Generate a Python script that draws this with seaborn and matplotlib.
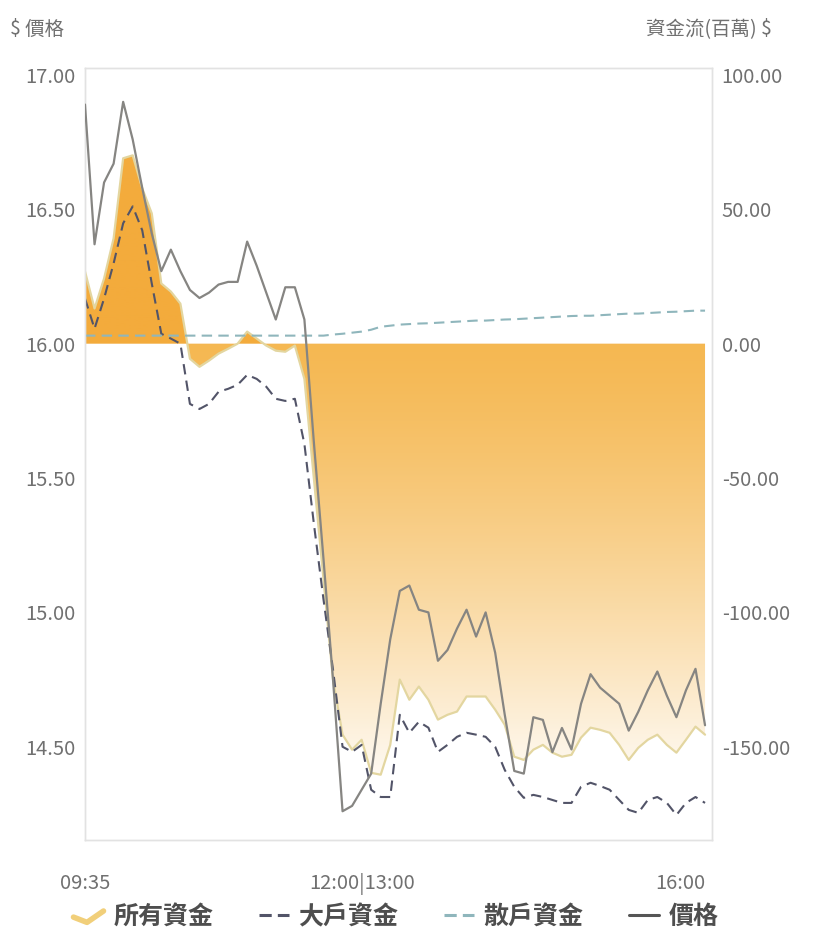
import numpy as np
import pandas as pd
import matplotlib
matplotlib.use("Agg")
import matplotlib.pyplot as plt
from matplotlib.patches import Polygon
from matplotlib.lines import Line2D
from matplotlib.legend_handler import HandlerBase
import seaborn as sns

# ---- data -----------------------------------------------------------------
morning = pd.date_range("09:35", "12:00", freq="5min").strftime("%H:%M").tolist()
afternoon = pd.date_range("13:05", "16:00", freq="5min").strftime("%H:%M").tolist()
times = morning + afternoon

price = [16.89, 16.37, 16.60, 16.67, 16.90, 16.76, 16.58, 16.41, 16.27, 16.35,
         16.27, 16.20, 16.17, 16.19, 16.22, 16.23, 16.23, 16.38, 16.29, 16.19,
         16.09, 16.21, 16.21, 16.09, 15.63, 15.20, 14.75, 14.26, 14.28, 14.34,
         14.40, 14.66, 14.90, 15.08, 15.10, 15.01, 15.00, 14.82, 14.86, 14.94,
         15.01, 14.91, 15.00, 14.85, 14.62, 14.41, 14.40, 14.61, 14.60, 14.48,
         14.57, 14.49, 14.66, 14.77, 14.72, 14.69, 14.66, 14.56, 14.63, 14.71,
         14.78, 14.69, 14.61, 14.71, 14.79, 14.58]

total_flow = [26.9, 13.1, 24.3, 39.2, 69.0, 70.1, 57.8, 48.5, 22.4, 19.4,
              14.9, -5.6, -8.6, -6.3, -3.7, -1.9, 0.0, 4.5, 1.9, -0.7,
              -2.6, -3.0, -0.7, -13.1, -50.4, -87.7, -125.0, -145.5, -151.1, -147.4,
              -159.7, -160.4, -149.3, -125.0, -132.5, -127.6, -132.5, -139.9, -138.1, -136.9,
              -131.3, -131.3, -131.3, -136.2, -141.8, -153.7, -154.9, -151.1, -149.3, -152.2,
              -153.7, -153.0, -146.6, -142.9, -143.7, -144.8, -149.3, -154.9, -150.4, -147.4,
              -145.5, -149.3, -152.2, -147.4, -142.5, -145.5]

large_flow = [16.8, 5.6, 16.8, 29.9, 44.8, 51.1, 42.2, 22.4, 3.7, 1.9,
              0.0, -22.4, -24.3, -22.4, -17.9, -16.8, -15.3, -11.6, -13.1, -16.0,
              -20.5, -21.3, -20.5, -37.3, -67.2, -95.1, -121.3, -150.0, -151.9, -149.3,
              -166.0, -168.7, -168.7, -138.1, -144.8, -140.7, -142.9, -151.9, -149.3, -146.3,
              -144.8, -145.5, -146.3, -150.0, -158.6, -164.9, -169.0, -167.9, -168.7, -169.8,
              -170.9, -170.9, -164.9, -163.4, -164.6, -166.0, -169.8, -173.5, -174.6, -169.8,
              -168.7, -170.9, -175.4, -170.9, -168.7, -170.9]

retail_flow = [3.0, 3.0, 3.0, 3.0, 3.0, 3.0, 3.0, 3.0, 3.0, 3.0,
               3.0, 3.0, 3.0, 3.0, 3.0, 3.0, 3.0, 3.0, 3.0, 3.0,
               3.0, 3.0, 3.0, 3.0, 3.0, 3.0, 3.4, 3.7, 4.1, 4.5,
               5.2, 6.3, 6.7, 7.1, 7.3, 7.5, 7.6, 7.8, 8.0, 8.2,
               8.4, 8.6, 8.6, 8.8, 9.0, 9.1, 9.3, 9.5, 9.7, 9.9,
               10.1, 10.3, 10.4, 10.4, 10.6, 10.8, 11.0, 11.2, 11.2, 11.4,
               11.6, 11.8, 11.9, 12.1, 12.3, 12.3]

tick_times = ["09:35", "12:00", "16:00"]
tick_labels = ["09:35", "12:00|13:00", "16:00"]
price_ticks = [14.5, 15.0, 15.5, 16.0, 16.5, 17.0]
flow_ticks = [-150, -100, -50, 0, 50, 100]

series_names = ["所有資金", "大戶資金", "散戶資金", "價格"]

# ---- style ------------------------------------------------------------------
sns.set_theme(style="white")
plt.rcParams["font.family"] = ["Noto Sans CJK TC", "DejaVu Sans"]

FILL_POS = np.array([0xf3, 0xab, 0x3c]) / 255.0   # inflow area: solid orange
FILL_NEG = np.array([0xf5, 0xb8, 0x52]) / 255.0   # outflow area: fades to white
TOTAL_LINE = "#e3d6a0"
LARGE = "#525468"
RETAIL = "#8fb6bc"
PRICE = "#868582"
TEXT = "#707070"

df = pd.DataFrame({
    "t": np.arange(len(times)),
    "time": times,
    "price": price,
    "total": total_flow,
    "large": large_flow,
    "retail": retail_flow,
})

# flow axis (scale: 1 price unit = 100 flow units, 16.00 <-> 0)
flow_lo, flow_hi = -184.7, 102.6
x_lo, x_hi = 0, len(times) - 1 + 0.73

fig = plt.figure(figsize=(8.13, 9.36), dpi=100)
ax = fig.add_axes([85 / 813, 1 - 840 / 936, (712 - 85) / 813, (840 - 68) / 936])
ax2 = ax.twinx()

# gradient-filled area for total flow
v = np.linspace(flow_hi, flow_lo, 800)
frac = np.clip(-v / 170.0, 0, 1) ** 1.3
neg = FILL_NEG[None, :] * (1 - frac[:, None]) + np.ones(3)[None, :] * frac[:, None]
cols = np.where((v >= 0)[:, None], FILL_POS[None, :], neg)
img = cols[:, None, :]
im = ax.imshow(img, extent=[x_lo, x_hi, flow_lo, flow_hi], aspect="auto",
               origin="upper", zorder=1, interpolation="bilinear")
verts = np.column_stack([np.r_[df["t"].iloc[0], df["t"], df["t"].iloc[-1]],
                         np.r_[0.0, df["total"], 0.0]])
clip_poly = Polygon(verts, closed=True, transform=ax.transData)
im.set_clip_path(clip_poly)

sns.lineplot(data=df, x="t", y="total", ax=ax, color=TOTAL_LINE, linewidth=1.6, zorder=3)
sns.lineplot(data=df, x="t", y="large", ax=ax, color=LARGE, linewidth=1.5,
             linestyle=(0, (5, 3)), zorder=4)
sns.lineplot(data=df, x="t", y="retail", ax=ax, color=RETAIL, linewidth=1.5,
             linestyle=(0, (5, 3)), zorder=4)
sns.lineplot(data=df, x="t", y="price", ax=ax2, color=PRICE, linewidth=1.6, zorder=5)

ax.set_xlim(x_lo, x_hi)
ax.set_ylim(flow_lo, flow_hi)
ax2.set_ylim(16 + flow_lo / 100, 16 + flow_hi / 100)

# axes ticks
tick_pos = [times.index(t) for t in tick_times]
ax.set_xticks(tick_pos)
ax.set_xticklabels(tick_labels)
ax.set_yticks(flow_ticks)
ax.set_yticklabels([f"{f:.2f}" for f in flow_ticks])
ax2.set_yticks(price_ticks)
ax2.set_yticklabels([f"{p:.2f}" for p in price_ticks])

ax.yaxis.tick_right()
ax2.yaxis.tick_left()
for a in (ax, ax2):
    a.set_xlabel("")
    a.set_ylabel("")
    a.tick_params(length=0, labelsize=14.5, labelcolor=TEXT)
ax.tick_params(axis="x", pad=24)
ax.tick_params(axis="y", pad=7)
ax2.tick_params(axis="y", pad=7)
xt = ax.get_xticklabels()
xt[-1].set_ha("right")

for a in (ax, ax2):
    for s in a.spines.values():
        s.set_color("#e2e2e2")
        s.set_linewidth(1.0)

fig.text(10 / 813, 1 - 29 / 936, "$ 價格", ha="left", va="center",
         fontsize=14, color=TEXT)
fig.text(772 / 813, 1 - 29 / 936, "資金流(百萬) $", ha="right", va="center",
         fontsize=14, color=TEXT)


# legend with a check-mark glyph for the filled series
class CheckHandler(HandlerBase):
    def create_artists(self, legend, orig_handle, xdescent, ydescent, width,
                       height, fontsize, trans):
        xs = np.array([0.0, 0.45, 1.0]) * width - xdescent
        ys = np.array([0.4, 0.1, 0.75]) * height - ydescent
        ln = Line2D(xs, ys, color=orig_handle.get_color(),
                    lw=orig_handle.get_linewidth(),
                    solid_capstyle="round", solid_joinstyle="round")
        ln.set_transform(trans)
        return [ln]


h_total = Line2D([], [], color="#f1cf7a", lw=4)
h_large = Line2D([], [], color=LARGE, lw=2.2, linestyle=(0, (4, 2)))
h_retail = Line2D([], [], color=RETAIL, lw=2.2, linestyle=(0, (4, 2)))
h_price = Line2D([], [], color="#555555", lw=2.2)
leg = fig.legend([h_total, h_large, h_retail, h_price], series_names,
                 loc="center", bbox_to_anchor=(396 / 813, 1 - 917 / 936), ncol=4,
                 frameon=False, fontsize=18, handlelength=1.2,
                 handletextpad=0.4, columnspacing=1.8,
                 handler_map={h_total: CheckHandler()})
for txt in leg.get_texts():
    txt.set_color("#4e4e4e")
    txt.set_fontweight("bold")

fig.savefig("out.png", dpi=100, facecolor="white")
